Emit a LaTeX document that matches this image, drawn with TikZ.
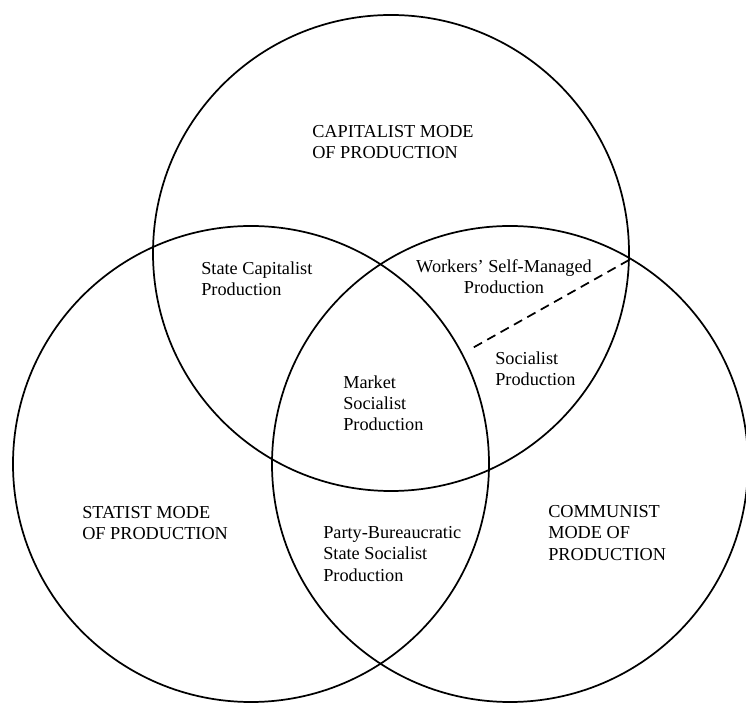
\documentclass[tikz,border=0pt]{standalone}
\usepackage{fontspec}
\setmainfont{Liberation Serif}

\begin{document}
\begin{tikzpicture}[x=0.75pt, y=0.75pt, line join = round, line cap = round,
    ring/.style = {line width=1.3pt},
    txt/.style = {font=\fontsize{13.7}{15.8}\selectfont, align=left, anchor=west, inner sep=0pt}]
    \useasboundingbox (0,0) rectangle (746,703);

    \coordinate (K) at (391,450);  % capitalist
    \coordinate (S) at (251,239);  % statist
    \coordinate (C) at (510,239);  % communist

    \foreach \i in {K,S,C}
        \draw[ring] (\i) circle (238);

    % split of the capitalist/communist overlap
    \coordinate (top) at (629,443);
    \coordinate (low) at (469,353);
    \draw[ring, dash pattern=on 7pt off 4.5pt, line cap=butt] (top)--(low);

    \node[txt] (capmode) at (312,561) {CAPITALIST MODE\\OF PRODUCTION};
    \node[txt] (statecap) at (201,424) {State Capitalist\\Production};
    \node[txt, align=center, anchor=center] (workers) at (504,426) {Workers' Self-Managed\\Production};
    \node[txt] (socialist) at (495,334) {Socialist\\Production};
    \node[txt] (market) at (343,300) {Market\\Socialist\\Production};
    \node[txt] (statmode) at (82,180) {STATIST MODE\\OF PRODUCTION};
    \node[txt] (party) at (323,149) {Party-Bureaucratic\\State Socialist\\Production};
    \node[txt] (commode) at (548,170) {COMMUNIST\\MODE OF\\PRODUCTION};
\end{tikzpicture}
\end{document}
